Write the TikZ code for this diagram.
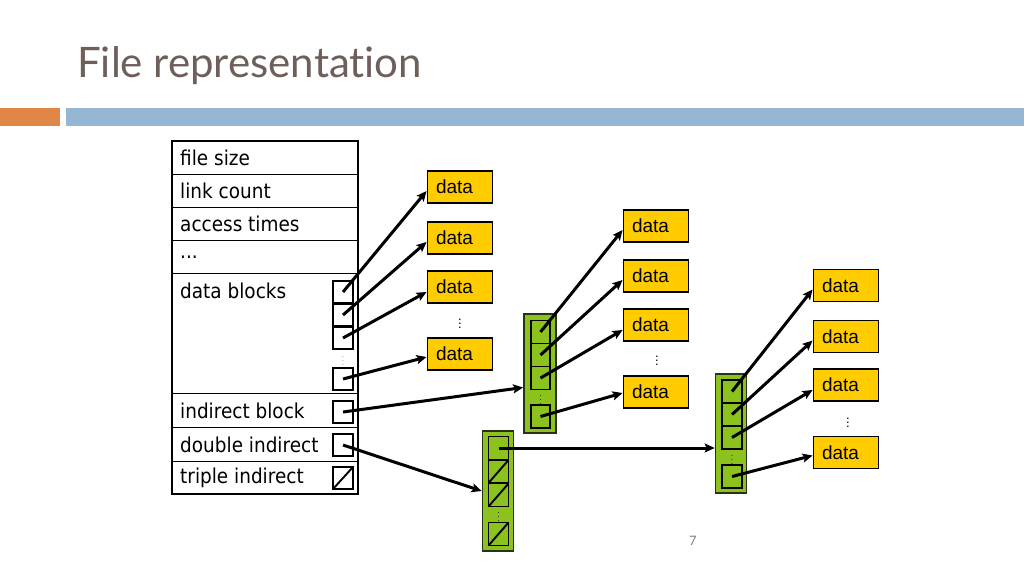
\documentclass[tikz,border=0pt]{standalone}
\usepackage{fontspec}
\setmainfont{Liberation Sans}
\newfontfamily\titlefont{Lato}[Ligatures={NoCommon}]
\newfontfamily\tabfont{DejaVu Sans}[FakeStretch=0.9]
\newfontfamily\datafont{Liberation Sans}
\usetikzlibrary{arrows.meta}
\definecolor{titlecol}{RGB}{110,95,90}
\definecolor{barorange}{RGB}{224,135,72}
\definecolor{barblue}{RGB}{148,182,210}
\definecolor{datayellow}{RGB}{255,204,0}
\definecolor{blkgreen}{RGB}{140,194,30}
\definecolor{blkedge}{RGB}{40,50,20}
\newcommand{\dlabel}{\makebox[48pt][l]{data}}
\tikzset{
  tabtext/.style={anchor=west, inner sep=0pt, font=\tabfont\fontsize{20.5}{22}\selectfont},
  ptr/.style={draw, line width=1.9pt, minimum width=20pt, minimum height=22pt, inner sep=0pt},
  ptrx/.style={ptr, path picture={\draw[line width=1.9pt] (path picture bounding box.south west) -- (path picture bounding box.north east);}},
  datab/.style={draw, fill=datayellow, line width=1.9pt, minimum width=65pt, minimum height=32pt, inner sep=0pt, font=\datafont\fontsize{19}{21}\selectfont},
  blk/.style={draw=blkedge, fill=blkgreen, line width=1.7pt, inner sep=0pt},
  arr/.style={-{Stealth[length=10pt,width=9pt,inset=2pt]}, line width=3pt},
  vbig/.style={inner sep=0pt, font=\fontsize{13}{13}\selectfont},
  vsmall/.style={inner sep=0pt, font=\fontsize{8}{8}\selectfont}
}
\begin{document}
\begin{tikzpicture}[x=1pt,y=-1pt]
\useasboundingbox (0,0) rectangle (1024,576);
% title and bars
\node[anchor=base west, inner sep=0pt, text=titlecol, font=\titlefont\fontsize{42}{44}\selectfont] (title) at (77,77) {File representation};
\fill[barorange] (0,108) rectangle (60,126);
\fill[barblue] (66,108) rectangle (1024,126);
% inode table
\draw[line width=0.9pt] (172,174) -- (358,174) (172,207) -- (358,207) (172,240) -- (358,240)
  (172,273) -- (358,273) (172,393) -- (358,393) (172,427) -- (358,427) (172,461) -- (358,461);
\draw[line width=2pt] (172,141) rectangle (358,494);
\node[tabtext] (tfs) at (180,158) {file size};
\node[tabtext] (tlc) at (180,191) {link count};
\node[tabtext] (tat) at (180,224) {access times};
\node[tabtext] (tdd) at (180,257) {...};
\node[tabtext] (tdb) at (180,291) {data blocks};
\node[tabtext] (tib) at (180,411) {indirect block};
\node[tabtext] (tdi) at (180,445) {double indirect};
\node[tabtext] (tti) at (180,478) {triple indirect};
\node[ptr] (p1) at (343,292) {};
\node[ptr] (p2) at (343,315) {};
\node[ptr] (p3) at (343,338) {};
\node[vsmall, text=gray] (pv) at (343,358) {$\vdots$};
\node[ptr] (p4) at (343,379) {};
\node[ptr] (pi) at (343,412) {};
\node[ptr] (pd) at (343,445) {};
\node[ptrx] (pt) at (343,478) {};
% data column 1
\node[datab] (d1) at (460,187) {\dlabel};
\node[datab] (d2) at (460,238) {\dlabel};
\node[datab] (d3) at (460,287) {\dlabel};
\node[vbig] (dv) at (460,321) {$\vdots$};
\node[datab] (d4) at (460,354) {\dlabel};
% single indirect block A
\node[blk, minimum width=32pt, minimum height=119pt] (A) at (540,373.5) {};
\node[ptr, minimum width=19pt, minimum height=23pt] (a1) at (540.5,332) {};
\node[ptr, minimum width=19pt, minimum height=23pt] (a2) at (540.5,355) {};
\node[ptr, minimum width=19pt, minimum height=23pt] (a3) at (540.5,378) {};
\node[vsmall] (av) at (540.5,397) {$\vdots$};
\node[ptr, minimum width=19pt, minimum height=23pt] (a4) at (540.5,416.5) {};
% data column 2
\node[datab] (e1) at (656,226) {\dlabel};
\node[datab] (e2) at (656,276) {\dlabel};
\node[datab] (e3) at (656,325) {\dlabel};
\node[vbig] (ev) at (657,358) {$\vdots$};
\node[datab] (e4) at (656,392) {\dlabel};
% double indirect block B
\node[blk, minimum width=31pt, minimum height=120pt] (B) at (498,491) {};
\node[ptr, minimum width=20pt, minimum height=23pt] (b1) at (498.5,448) {};
\node[ptrx, minimum width=20pt, minimum height=23pt] (b2) at (498.5,471.5) {};
\node[ptrx, minimum width=20pt, minimum height=23pt] (b3) at (498.5,495) {};
\node[vsmall] (bv) at (498.5,514) {$\vdots$};
\node[ptrx, minimum width=20pt, minimum height=23pt] (b4) at (498.5,534) {};
% second level block C
\node[blk, minimum width=31pt, minimum height=119pt] (C) at (731,433.5) {};
\node[ptr, minimum width=20pt, minimum height=23pt] (c1) at (732,391.5) {};
\node[ptr, minimum width=20pt, minimum height=23pt] (c2) at (732,414.5) {};
\node[ptr, minimum width=20pt, minimum height=23pt] (c3) at (732,437.5) {};
\node[vsmall] (cv) at (732,457) {$\vdots$};
\node[ptr, minimum width=20pt, minimum height=23pt] (c4) at (732,476.5) {};
% data column 3
\node[datab] (f1) at (846,285.5) {\dlabel};
\node[datab] (f2) at (846,336.5) {\dlabel};
\node[datab] (f3) at (846,385) {\dlabel};
\node[vbig] (fv) at (848,420) {$\vdots$};
\node[datab] (f4) at (846,452.5) {\dlabel};
% arrows
\draw[arr] (p1.center) -- ([yshift=-4pt]d1.west);
\draw[arr] (p2.center) -- ([yshift=-4pt]d2.west);
\draw[arr] (p3.center) -- ([yshift=-5pt]d3.west);
\draw[arr] (p4.center) -- ([yshift=-3pt]d4.west);
\draw[arr] (pi.center) -- ([yshift=-14pt]A.west);
\draw[arr] (pd.center) -- (B.west);
\draw[arr] (a1.center) -- ([yshift=-4pt]e1.west);
\draw[arr] (a2.center) -- ([yshift=-4pt]e2.west);
\draw[arr] (a3.center) -- ([yshift=-5pt]e3.west);
\draw[arr] (a4.center) -- ([yshift=-1pt]e4.west);
\draw[arr] (b1.center) -- (b1.center -| C.west);
\draw[arr] (c1.center) -- ([yshift=-4pt]f1.west);
\draw[arr] (c2.center) -- ([yshift=-4pt]f2.west);
\draw[arr] (c3.center) -- ([yshift=-5pt]f3.west);
\draw[arr] (c4.center) -- ([yshift=-3pt]f4.west);
% page number
\node[text=gray, font=\titlefont\fontsize{13}{13}\selectfont] (pg) at (693,541) {7};
\end{tikzpicture}
\end{document}
